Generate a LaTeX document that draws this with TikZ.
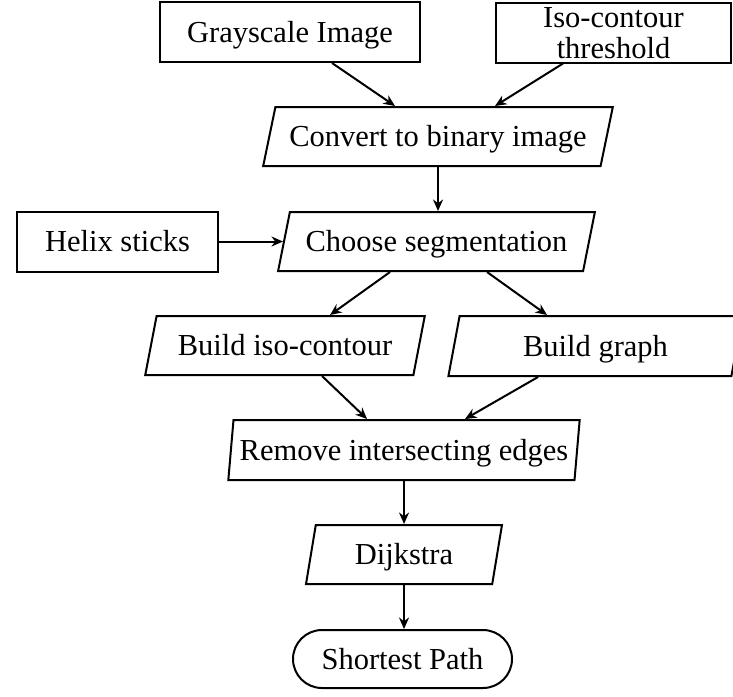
\documentclass[tikz,border=0pt]{standalone}
\usepackage{fontspec}
\setmainfont{Liberation Serif}
\usetikzlibrary{calc, positioning, arrows.meta, shapes.geometric}
\tikzset{
    datain/.style={rectangle, draw, line width=0.8pt, minimum height=24pt, inner sep=0pt, text height=8pt, text depth=0pt, font=\fontsize{12.2}{12.4}\selectfont, align=center},
    proc/.style={trapezium, trapezium stretches=true, draw, line width=0.8pt, minimum height=23.6pt, inner sep=0pt, text height=8pt, text depth=0pt, font=\fontsize{12.2}{12.4}\selectfont, trapezium left angle=#1, trapezium right angle={180-#1}},
    term/.style={rectangle, rounded corners=11.6pt, draw, line width=0.8pt, minimum height=23.2pt, inner sep=0pt, text height=8pt, text depth=0pt, font=\fontsize{12.2}{12.4}\selectfont},
    line/.style={-{Stealth[length=4.6pt, width=4pt]}, line width=0.8pt}
}

\begin{document}
\begin{tikzpicture}[x=0.4pt, y=-0.4pt]
        	\useasboundingbox (0,0) rectangle (733,696);
        	% inputs and processing steps
        	\node (gray) [datain, minimum width=104pt] at (290,32) {Grayscale Image};
        	\node (thr) [datain, minimum width=94pt, text height=20.4pt] at (613.5,32.5) {Iso-contour\\threshold};
        	\node (conv) [proc=60.8, minimum width=140pt] at (438,136.5) {Convert to binary image};
        	\node (helix) [datain, minimum width=80.4pt] at (117.5,241.5) {Helix sticks};
        	\node (choose) [proc=62.3, minimum width=126.8pt] at (436.5,241.5) {Choose segmentation};
        	\node (iso) [proc=64.6, minimum width=112pt] at (285,345.5) {Build iso-contour};
        	\node (graph) [proc=73.4, minimum width=118pt, minimum height=24pt] at (595.5,346) {Build graph};
        	\node (remove) [proc=76, minimum width=140.8pt, minimum height=24pt] at (404,450) {Remove intersecting edges};
        	\node (dijk) [proc=74.8, minimum width=78.4pt] at (404,554.5) {Dijkstra};
        	\node (short) [term, minimum width=87.6pt] at (402.5,659) {Shortest Path};
        	
        	\draw[line] ($(gray.south)+(42,0)$) -- ($(conv.north)+(-43,0)$);
        	\draw[line] ($(thr.south)+(-50.5,0)$) -- ($(conv.north)+(57,0)$);
        	\draw[line] (conv.south) -- (conv.south |- choose.north);
        	\draw[line] (helix.east) -- (helix.east -| choose.west);
        	\draw[line] ($(choose.south)+(-46.5,0)$) -- ($(iso.north)+(45,0)$);
        	\draw[line] ($(choose.south)+(50.5,0)$) -- ($(graph.north)+(-48.5,0)$);
        	\draw[line] ($(iso.south)+(37,0)$) -- ($(remove.north)+(-37,0)$);
        	\draw[line] ($(graph.south)+(-57.5,0)$) -- ($(remove.north)+(61,0)$);
        	\draw[line] (remove.south) -- (remove.south |- dijk.north);
        	\draw[line] (dijk.south) -- (dijk.south |- short.north);
        	
        \end{tikzpicture}
\end{document}
